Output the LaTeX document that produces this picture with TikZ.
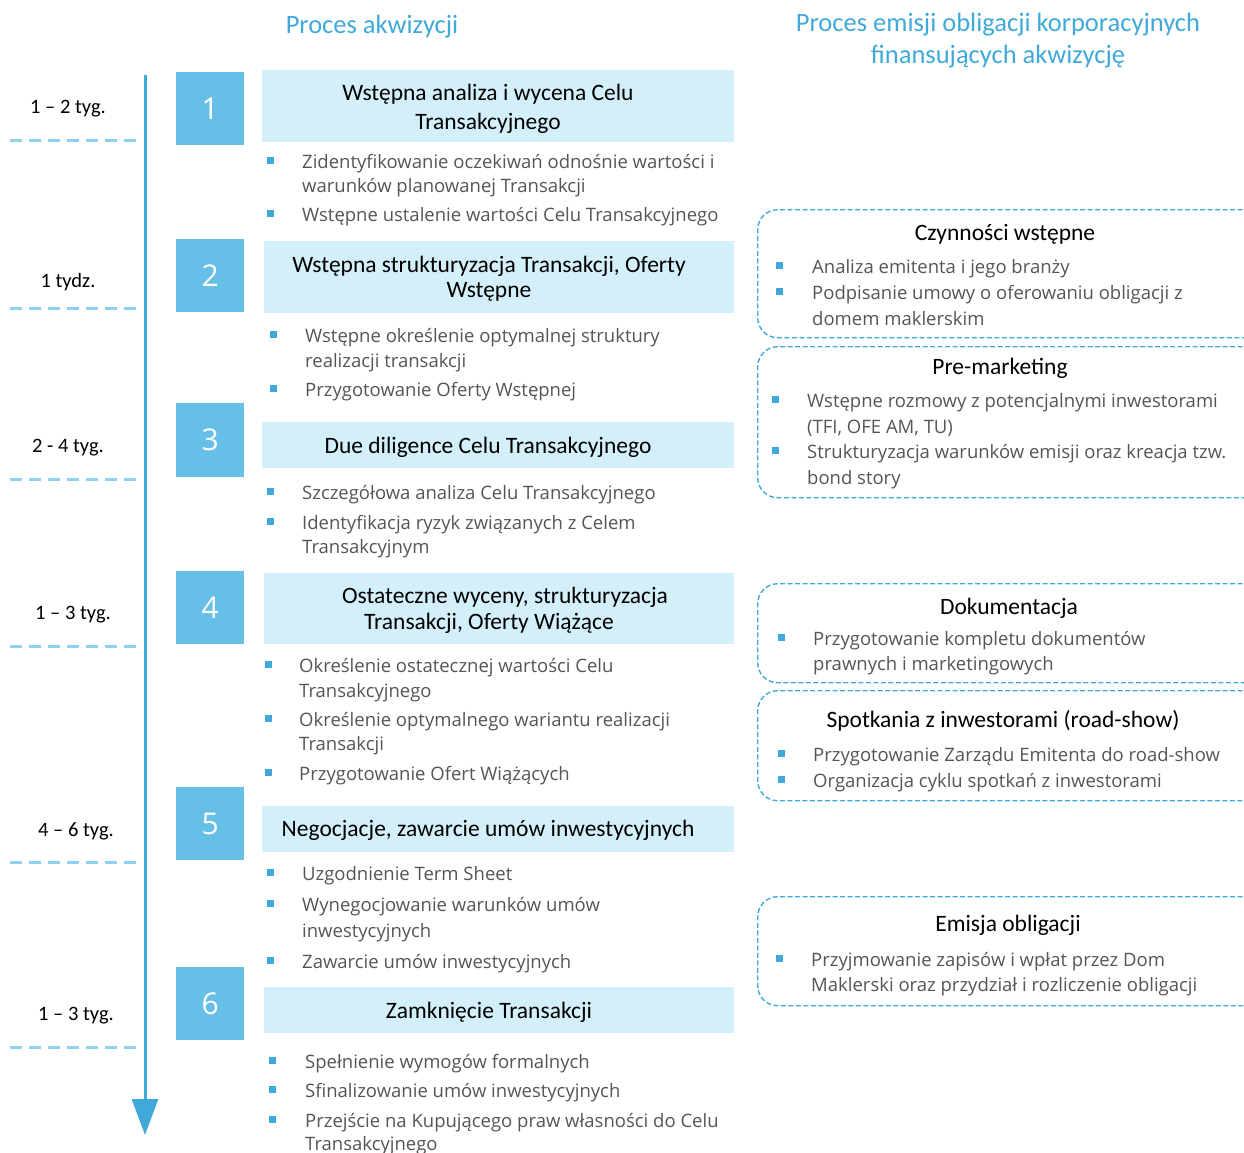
\documentclass[tikz,border=0pt]{standalone}
\usepackage{fontspec}
\setmainfont{Carlito}
\newfontfamily\bodyfont{Open Sans}
\usetikzlibrary{arrows.meta}
\definecolor{mainblue}{HTML}{3FA9D9}
\definecolor{numblue}{HTML}{66BFE6}
\definecolor{headfill}{HTML}{D3EFFA}
\definecolor{dashblue}{HTML}{8FD1EE}
\definecolor{bodygrey}{HTML}{555555}
\newcounter{lc}
\newcommand\tline[3]{\stepcounter{lc}\node[bodytxt] (ln\arabic{lc}) at (#1,#2) {#3};}
\newcommand\tbul[2]{\stepcounter{lc}\node[bulsq] (bu\arabic{lc}) at (#1,#2) {};}
\newcommand\thead[3]{\stepcounter{lc}\node[headtxt] (hd\arabic{lc}) at (#1,#2) {#3};}
\begin{document}
\begin{tikzpicture}[x=1pt,y=-1pt,
  numbox/.style={fill=numblue, minimum width=68pt, minimum height=73pt, inner sep=0pt, anchor=north west, text=white, font=\bodyfont\fontsize{30}{34}\selectfont},
  headbox/.style={fill=headfill, minimum width=472pt, inner sep=0pt, anchor=north west},
  headtxt/.style={inner sep=0pt, yshift=-2pt, text=black, font=\fontsize{23.5}{28}\selectfont, text height=16pt, text depth=4pt},
  titletxt/.style={inner sep=0pt, yshift=-2.5pt, text=mainblue, font=\fontsize{26.5}{31}\selectfont, text height=17pt, text depth=5pt},
  timetxt/.style={inner sep=0pt, yshift=-2pt, text=black, font=\fontsize{20.5}{24}\selectfont, text height=14pt, text depth=4pt},
  bodytxt/.style={inner sep=0pt, yshift=-2pt, anchor=west, text=bodygrey, font=\bodyfont\fontsize{18.5}{24}\selectfont, text height=12.5pt, text depth=1pt},
  bulsq/.style={fill=mainblue, minimum size=7pt, inner sep=0pt},
  hdash/.style={draw=dashblue, line width=3pt, dash pattern=on 12pt off 7pt},
  dbox/.style={draw=mainblue, line width=1.4pt, dash pattern=on 5pt off 2.5pt, rounded corners=20pt, minimum width=520pt, inner sep=0pt, anchor=north west},
  timeline/.style={draw=mainblue, line width=3pt, -{Triangle[width=26pt,length=36pt]}}
]
\useasboundingbox (0,0) rectangle (1244,1152);
\clip (0,0) rectangle (1244,1152);

% column titles
\node[titletxt] (t1) at (372,25) {Proces akwizycji};
\node[titletxt] (t2) at (998,23) {Proces emisji obligacji korporacyjnych};
\node[titletxt] (t3) at (998,55) {finansujących akwizycję};

% timeline
\coordinate (atop) at (145,75);
\coordinate (abot) at (145,1135);
\draw[timeline] (atop) -- (abot);

% dashed separators
\foreach \yy [count=\i] in {140,308,479,646,862,1047} {
  \coordinate (dl\i) at (10,\yy);
  \coordinate (dr\i) at (142,\yy);
  \draw[hdash] (dl\i) -- (dr\i);
}

% durations
\node[timetxt] (d1) at (68,106) {1 – 2 tyg.};
\node[timetxt] (d2) at (68,280) {1 tydz.};
\node[timetxt] (d3) at (68,445) {2 - 4 tyg.};
\node[timetxt] (d4) at (73,612) {1 – 3 tyg.};
\node[timetxt] (d5) at (76,829) {4 – 6 tyg.};
\node[timetxt] (d6) at (76,1013) {1 – 3 tyg.};

% number squares
\node[numbox] (n1) at (176,72) {1};
\node[numbox] (n2) at (176,239) {2};
\node[numbox, minimum height=74pt] (n3) at (176,403) {3};
\node[numbox] (n4) at (176,571) {4};
\node[numbox] (n5) at (176,787) {5};
\node[numbox] (n6) at (176,967) {6};

% heading boxes
\node[headbox, minimum height=72pt] (h1) at (262,70) {};
\node[headbox, minimum width=470pt, minimum height=72pt] (h2) at (264,241) {};
\node[headbox, minimum height=46pt] (h3) at (262,422) {};
\node[headbox, minimum width=470pt, minimum height=71pt] (h4) at (264,573) {};
\node[headbox, minimum height=46pt] (h5) at (262,806) {};
\node[headbox, minimum width=470pt, minimum height=46pt] (h6) at (264,987) {};

\thead{488}{92}{Wstępna analiza i wycena Celu}
\thead{488}{121}{Transakcyjnego}
\thead{489}{264}{Wstępna strukturyzacja Transakcji, Oferty}
\thead{489}{289}{Wstępne}
\thead{488}{445}{Due diligence Celu Transakcyjnego}
\thead{505}{595}{Ostateczne wyceny, strukturyzacja}
\thead{489}{621}{Transakcji, Oferty Wiążące}
\thead{488}{828}{Negocjacje, zawarcie umów inwestycyjnych}
\thead{489}{1010}{Zamknięcie Transakcji}

% block 1
\tbul{270}{160}\tline{302}{161}{Zidentyfikowanie oczekiwań odnośnie wartości i}
\tline{302}{185}{warunków planowanej Transakcji}
\tbul{270}{213}\tline{302}{214}{Wstępne ustalenie wartości Celu Transakcyjnego}
% block 2
\tbul{273}{334}\tline{305}{335}{Wstępne określenie optymalnej struktury}
\tline{305}{360}{realizacji transakcji}
\tbul{273}{388}\tline{305}{389}{Przygotowanie Oferty Wstępnej}
% block 3
\tbul{270}{491}\tline{302}{492}{Szczegółowa analiza Celu Transakcyjnego}
\tbul{270}{521}\tline{302}{522}{Identyfikacja ryzyk związanych z Celem}
\tline{302}{546}{Transakcyjnym}
% block 4
\tbul{268}{664}\tline{299}{665}{Określenie ostatecznej wartości Celu}
\tline{299}{690}{Transakcyjnego}
\tbul{268}{718}\tline{299}{719}{Określenie optymalnego wariantu realizacji}
\tline{299}{743}{Transakcji}
\tbul{268}{772}\tline{299}{773}{Przygotowanie Ofert Wiążących}
% block 5
\tbul{270}{872}\tline{302}{873}{Uzgodnienie Term Sheet}
\tbul{270}{903}\tline{302}{904}{Wynegocjowanie warunków umów}
\tline{302}{930}{inwestycyjnych}
\tbul{270}{960}\tline{302}{961}{Zawarcie umów inwestycyjnych}
% block 6
\tbul{272}{1060}\tline{305}{1061}{Spełnienie wymogów formalnych}
\tbul{272}{1089}\tline{305}{1090}{Sfinalizowanie umów inwestycyjnych}
\tbul{272}{1119}\tline{305}{1120}{Przejście na Kupującego praw własności do Celu}
\tline{305}{1143}{Transakcyjnego}

% right column boxes
\node[dbox, minimum height=128pt] (r1) at (757,209) {};
\node[dbox, minimum height=151pt] (r2) at (757,346) {};
\node[dbox, minimum height=99pt] (r3) at (757,583) {};
\node[dbox, minimum height=110pt] (r4) at (757,690) {};
\node[dbox, minimum height=109pt] (r5) at (757,896) {};

\thead{1005}{232}{Czynności wstępne}
\tbul{779}{265}\tline{812}{266}{Analiza emitenta i jego branży}
\tbul{779}{291}\tline{812}{292}{Podpisanie umowy o oferowaniu obligacji z}
\tline{812}{318}{domem maklerskim}

\thead{1000}{366}{Pre-marketing}
\tbul{775}{399}\tline{807}{400}{Wstępne rozmowy z potencjalnymi inwestorami}
\tline{807}{426}{(TFI, OFE AM, TU)}
\tbul{775}{450}\tline{807}{451}{Strukturyzacja warunków emisji oraz kreacja tzw.}
\tline{807}{477}{bond story}

\thead{1009}{606}{Dokumentacja}
\tbul{781}{637}\tline{813}{638}{Przygotowanie kompletu dokumentów}
\tline{813}{663}{prawnych i marketingowych}

\thead{1003}{719}{Spotkania z inwestorami (road-show)}
\tbul{781}{753}\tline{813}{754}{Przygotowanie Zarządu Emitenta do road-show}
\tbul{781}{779}\tline{813}{780}{Organizacja cyklu spotkań z inwestorami}

\thead{1008}{923}{Emisja obligacji}
\tbul{779}{958}\tline{811}{959}{Przyjmowanie zapisów i wpłat przez Dom}
\tline{811}{984}{Maklerski oraz przydział i rozliczenie obligacji}
\end{tikzpicture}
\end{document}
